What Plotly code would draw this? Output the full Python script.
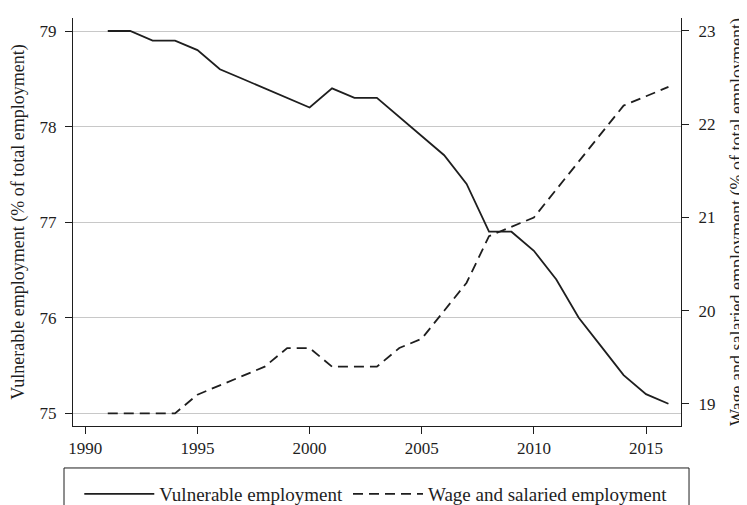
import plotly.graph_objects as go

years = list(range(1991, 2017))
vulnerable = [79.0, 79.0, 78.9, 78.9, 78.8, 78.6, 78.5, 78.4, 78.3, 78.2,
              78.4, 78.3, 78.3, 78.1, 77.9, 77.7, 77.4, 76.9, 76.9, 76.7,
              76.4, 76.0, 75.7, 75.4, 75.2, 75.1]
wage = [18.9, 18.9, 18.9, 18.9, 19.1, 19.2, 19.3, 19.4, 19.6, 19.6,
        19.4, 19.4, 19.4, 19.6, 19.7, 20.0, 20.3, 20.8, 20.9, 21.0,
        21.3, 21.6, 21.9, 22.2, 22.3, 22.4]
x_ticks = [1990, 1995, 2000, 2005, 2010, 2015]
left_ticks = [75, 76, 77, 78, 79]
right_ticks = [19, 20, 21, 22, 23]

FONT = "Liberation Serif"
INK = "#1e1e1e"

fig = go.Figure()
fig.add_trace(go.Scatter(x=years, y=vulnerable, name="Vulnerable employment",
                         mode="lines", line=dict(color=INK, width=1.8)))
fig.add_trace(go.Scatter(x=years, y=wage, name="Wage and salaried employment",
                         mode="lines", yaxis="y2",
                         line=dict(color=INK, width=1.8, dash="10px,6px")))

fig.update_layout(
    width=747, height=505,
    margin=dict(l=65, r=74, t=10, b=87, autoexpand=False),
    paper_bgcolor="white", plot_bgcolor="white",
    font=dict(family=FONT, size=17, color=INK),
    xaxis=dict(range=[1989.45, 2016.56], tickvals=x_ticks, showgrid=False,
               zeroline=False, showline=True, linecolor=INK, linewidth=1,
               ticks="outside", ticklen=7, tickcolor=INK, tickwidth=1,
               tickfont=dict(size=17)),
    yaxis=dict(range=[74.867, 79.136], tickvals=left_ticks, showgrid=True,
               gridcolor="#c8c8c8", gridwidth=1, zeroline=False,
               showline=True, linecolor=INK, linewidth=1,
               ticks="outside", ticklen=7, tickcolor=INK, tickwidth=1,
               tickfont=dict(size=17), ticklabelstandoff=5,
               title=dict(text="Vulnerable employment (% of total employment)",
                          font=dict(size=18), standoff=22)),
    yaxis2=dict(range=[18.764, 23.139], tickvals=right_ticks, overlaying="y",
                side="right", showgrid=False, zeroline=False,
                showline=True, linecolor=INK, linewidth=1,
                ticks="outside", ticklen=7, tickcolor=INK, tickwidth=1,
                tickfont=dict(size=17), ticklabelstandoff=6,
                title=dict(text="Wage and salaried employment (% of total employment)",
                           font=dict(size=18), standoff=15)),
    showlegend=True,
    legend=dict(orientation="h", x=0.498, xanchor="center", y=-0.1667,
                yanchor="middle", font=dict(size=19), itemwidth=70,
                bgcolor="rgba(0,0,0,0)", borderwidth=0),
    shapes=[dict(type="rect", xref="paper", yref="paper",
                 x0=-0.0148, x1=1.0132, y0=-0.1029, y1=-0.26,
                 line=dict(color=INK, width=1), fillcolor="rgba(0,0,0,0)",
                 layer="above")],
)

fig.write_html("out.html")
